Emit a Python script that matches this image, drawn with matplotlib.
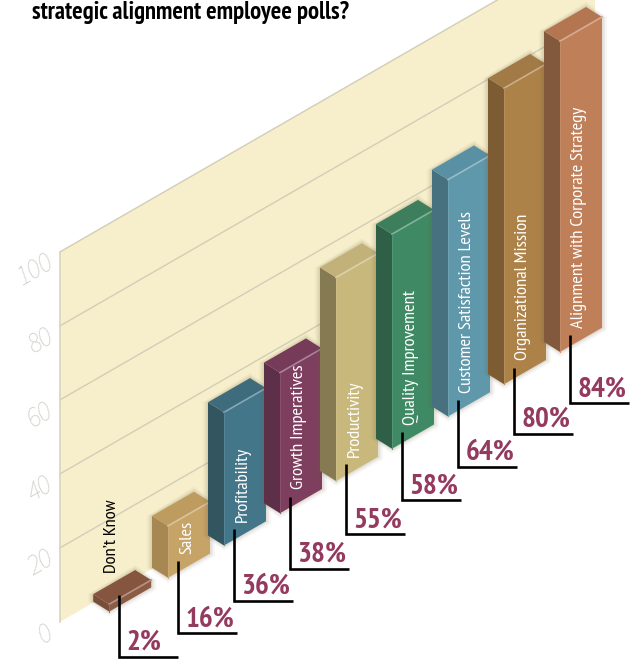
import matplotlib
matplotlib.use('Agg')
import matplotlib.pyplot as plt
from matplotlib.patches import Polygon

categories = ["Don\u2019t Know", "Sales", "Profitability", "Growth Imperatives", "Productivity",
              "Quality Improvement", "Customer Satisfaction Levels", "Organizational Mission",
              "Alignment with Corporate Strategy"]
# bar heights as drawn in the picture (Sales is drawn a little short of its label)
bar_heights = [2, 14, 36, 38, 55, 58, 64, 80, 84]
percent_labels = ["2%", "16%", "36%", "38%", "55%", "58%", "64%", "80%", "84%"]
y_ticks = [0, 20, 40, 60, 80, 100]

front_colors = ['#8C5B45', '#C6A367', '#44768A', '#7E3F5F', '#C8B87C', '#3F8A64', '#5F98AB', '#AD8249', '#BF7F59']
side_colors = ['#7A4D39', '#A78852', '#335560', '#5E2F49', '#857A52', '#2F5F47', '#47717F', '#7E5C33', '#83593D']
top_colors = ['#85553F', '#BE9C60', '#3F6C7D', '#753B58', '#C2B27A', '#3D7F5C', '#5A90A3', '#A27A45', '#B37650']

slots = [-0.05, 1, 2, 3, 4, 5, 6, 7, 8]
leader_drop = [62, 72, 72, 72, 70, 68, 67, 66, 68]

# projection of the slanted chart, in picture pixels
X0, Y0 = 112, 610
STEP = 56
SLOPE = 0.576
UNIT = 3.7
DEPTH_X, DEPTH_Y = -16, -10
BAR_W = 0.75
WALL_D = 0.94


def project(p, v, d=0):
    x = X0 + STEP * p + DEPTH_X * d
    y = Y0 - SLOPE * STEP * p - UNIT * v + DEPTH_Y * d
    return x, y


def lighter(c, a=0.3):
    rgb = matplotlib.colors.to_rgb(c)
    return tuple(i + (1 - i) * a for i in rgb)


fig = plt.figure(figsize=(6.41, 6.61), dpi=100)
ax = fig.add_axes([0, 0, 1, 1])
ax.set_xlim(0, 641)
ax.set_ylim(661, 0)
ax.axis('off')

narrow = ['PT Sans Narrow', 'Liberation Sans', 'DejaVu Sans']

# wall
p_left = (60 - X0 - DEPTH_X * WALL_D) / STEP
p_right = (595 - X0 - DEPTH_X * WALL_D) / STEP
wall = [project(p_left, 0, WALL_D), project(p_right, 0, WALL_D),
        project(p_right, 100, WALL_D), project(p_left, 100, WALL_D)]
ax.add_patch(Polygon(wall, closed=True, facecolor='#F7EFCC', edgecolor='none', zorder=1))
for t in y_ticks:
    xa, ya = project(p_left, t, WALL_D)
    xb, yb = project(p_right, t, WALL_D)
    if t > 0:
        ax.plot([xa, xb], [ya, yb], color='#D2CDB6', lw=1.0, zorder=2)
    ax.text(xa - 9, ya + 9, str(t), color='#CDCBC3', fontsize=20, style='italic',
            family=['Source Sans 3', 'Liberation Sans'], rotation=30, rotation_mode='anchor',
            ha='right', va='center', zorder=2)
xa, ya = project(p_left, 0, WALL_D)
xb, yb = project(p_left, 100, WALL_D)
ax.plot([xa, xb], [ya, yb], color='#D8D4BE', lw=1.2, zorder=2)

# bars
for i, v in enumerate(bar_heights):
    z = 5 + i
    s = slots[i]
    fl_b = project(s, 0)
    fr_b = project(s + BAR_W, 0)
    fl_t = project(s, v)
    fr_t = project(s + BAR_W, v)
    bl_t = project(s, v, 1)
    br_t = project(s + BAR_W, v, 1)
    bl_b = project(s, 0, 1)
    # soft shadow under the bar
    for grow, alpha in [(5, 0.05), (3, 0.07), (1.5, 0.09)]:
        shadow = [(bl_b[0] - grow, bl_b[1]), (fl_b[0], fl_b[1] + grow), (fr_b[0] + grow, fr_b[1] + grow * 0.5),
                  (fr_t[0] + grow, fr_t[1]), (br_t[0], br_t[1] - grow), (bl_t[0] - grow, bl_t[1])]
        ax.add_patch(Polygon(shadow, closed=True, facecolor='#6B6040', edgecolor='none', alpha=alpha, zorder=z))
    ax.add_patch(Polygon([fl_t, bl_t, bl_b, fl_b], closed=True, facecolor=side_colors[i], edgecolor='none', zorder=z))
    ax.add_patch(Polygon([fl_t, fr_t, br_t, bl_t], closed=True, facecolor=top_colors[i], edgecolor='none', zorder=z))
    ax.add_patch(Polygon([fl_b, fr_b, fr_t, fl_t], closed=True, facecolor=front_colors[i], edgecolor='none', zorder=z))
    ax.plot([fl_t[0], fr_t[0]], [fl_t[1], fr_t[1]], color=lighter(front_colors[i], 0.35), lw=1.2, zorder=z)
    ax.plot([fl_t[0], fl_b[0]], [fl_t[1], fl_b[1]], color=lighter(front_colors[i], 0.1), lw=0.7, zorder=z)

# category labels and leaders
for i, name in enumerate(categories):
    s = slots[i]
    xb, yb = project(s + 0.17, 3)
    xt, yt = project(s + 0.34, 3.5)
    col = 'black' if i == 0 else 'white'
    if i == 0:
        xt, yt = project(0, bar_heights[i] + 8)
    ax.text(xt, yt, name, color=col, fontsize=13.3, family=narrow, rotation=90,
            ha='center', va='bottom', zorder=30)
    drop = leader_drop[i]
    ax.plot([xb, xb, xb + 59], [yb, yb + drop, yb + drop], color='black', lw=1.9,
            solid_joinstyle='miter', solid_capstyle='butt', zorder=31)
    ax.text(xb + 8, yb + drop - 7, percent_labels[i], color='#933A5E', fontsize=21, weight='bold',
            family=narrow, ha='left', va='baseline', zorder=31)

ax.text(32, 19, "strategic alignment employee polls?", color='black', fontsize=17.7, weight='bold',
        family=narrow, ha='left', va='baseline', zorder=40)

fig.savefig('out.png', dpi=100)
